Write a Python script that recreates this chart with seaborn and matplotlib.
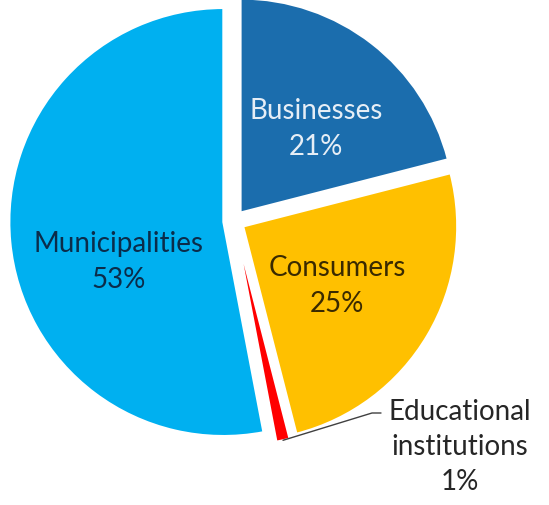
import matplotlib
matplotlib.use("Agg")
import numpy as np
import matplotlib.pyplot as plt
import seaborn as sns

sns.set_theme(style="white")
plt.rcParams['font.family'] = ['Lato', 'DejaVu Sans']

categories = ['Businesses', 'Consumers', 'Educational\ninstitutions', 'Municipalities']
shares = [21, 25, 1, 53]
colors = ['#1B6DAD', '#FFC000', '#FF0000', '#00B0F0']

fig = plt.figure(figsize=(5.49, 5.05), dpi=100)
ax = fig.add_axes([0, 0, 1, 1])

# pie radius in pixels and centre in pixel coords (from top-left)
R, cx, cy = 214.0, 234.0, 221.0

def px(x, y):
    return (x - cx) / R, (cy - y) / R

wedges, _ = ax.pie(shares, colors=colors, startangle=90, counterclock=False,
                   explode=[0.05, 0.05, 0.05, 0.05],
                   wedgeprops=dict(edgecolor='white', linewidth=1.5))

ax.set_xlim(-cx / R, (549 - cx) / R)
ax.set_ylim(-(505 - cy) / R, cy / R)
ax.set_aspect('auto')
ax.axis('off')

fs = 20
ls = 1.45
ax.text(*px(316, 129), f"{categories[0]}\n{shares[0]}%", ha='center', va='center',
        fontsize=fs, color='#E6EEF6', linespacing=ls)
ax.text(*px(337, 286), f"{categories[1]}\n{shares[1]}%", ha='center', va='center',
        fontsize=fs, color='#3A2A00', linespacing=ls)
ax.text(*px(119, 262), f"{categories[3]}\n{shares[3]}%", ha='center', va='center',
        fontsize=fs, color='#0B2C4A', linespacing=ls)
ax.text(*px(460, 447), f"{categories[2]}\n{shares[2]}%", ha='center', va='center',
        fontsize=fs, color='#262626', linespacing=ls)

# leader line from the tip of the small slice
w = wedges[2]
ang = np.deg2rad((w.theta1 + w.theta2) / 2)
tx = w.center[0] + w.r * np.cos(ang)
ty = w.center[1] + w.r * np.sin(ang)
x1, y1 = px(372, 413)
x2, y2 = px(381, 413)
ax.plot([tx, x1, x2], [ty, y1, y2], color='#404040', lw=1)

fig.savefig('out.png', dpi=100)
